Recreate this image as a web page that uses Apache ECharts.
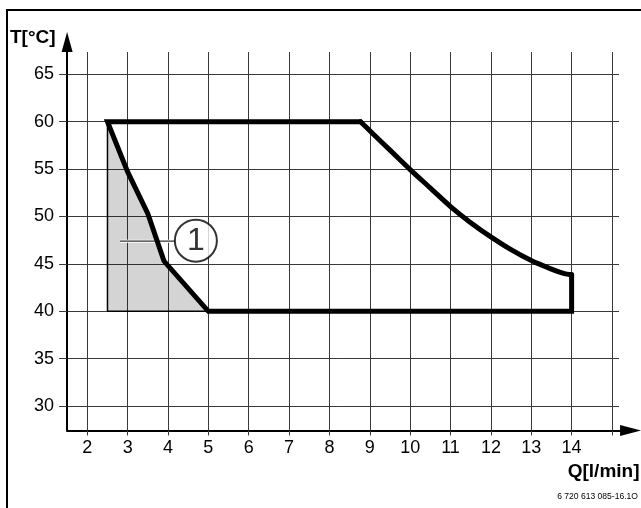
<!DOCTYPE html>
<html>
<head>
<meta charset="utf-8">
<script src="https://cdn.jsdelivr.net/npm/echarts@6/dist/echarts.min.js"></script>
<style>
  html, body { margin: 0; padding: 0; background: #fff; }
  #chart { width: 641px; height: 508px; }
</style>
</head>
<body>
<div id="chart"></div>
<script>
// ---- data ----
const qTicks = [2, 3, 4, 5, 6, 7, 8, 9, 10, 11, 12, 13, 14];
const tTicks = [30, 35, 40, 45, 50, 55, 60, 65];

// operating envelope, straight part (thick outline), Q [l/min], T [°C]
const envelopeQ = [8.77, 2.5, 3.0, 3.5, 3.9, 5.0, 14.0, 14.0];
const envelopeT = [60, 60, 54.7, 50.3, 45.3, 40, 40, 43.85];
// operating envelope, curved part
const curveQ = [8.77, 9.0, 9.5, 10.0, 10.5, 11.0, 11.5, 12.0, 12.5, 13.0, 13.5, 13.8, 14.0];
const curveT = [60, 59.05, 57.0, 54.95, 53.0, 51.05, 49.35, 47.85, 46.5, 45.35, 44.45, 44.0, 43.85];

// shaded region (1)
const shadeQ = [2.5, 3.0, 3.5, 3.9, 5.0, 2.5];
const shadeT = [60, 54.7, 50.3, 45.3, 40, 40];
const shadeEdgeQ = [2.5, 2.5, 5.0];
const shadeEdgeT = [60, 40, 40];

// callout "1"
const calloutLabel = '1';
const calloutQ = [4.69];
const calloutT = [47.45];
const leaderQ = [2.81, 4.17];
const leaderT = [47.4, 47.4];

const yTitle = 'T[°C]';
const xTitle = 'Q[l/min]';
const footnote = '6 720 613 085-16.1O';

// ---- layout (pixel mapping of the reference) ----
const W = 641, H = 508;
const PX_Q2 = 87.3, PX_PER_Q = 40.36, PY_T60 = 121.7, PX_PER_T = 9.48;
const px = q => PX_Q2 + (q - 2) * PX_PER_Q;
const py = t => PY_T60 + (60 - t) * PX_PER_T;
const Q_MIN = 1.5, Q_MAX = 15.2, T_MIN = 27.43, T_MAX = 67.35;
const FONT = 'Liberation Sans, Arial, sans-serif';

const zip = (a, b) => a.map((v, i) => [v, b[i]]);

const chart = echarts.init(document.getElementById('chart'), null, { renderer: 'canvas' });

const gridLine = { color: '#3a3a3a', width: 1 };

const option = {
  animation: false,
  backgroundColor: '#fff',
  grid: [
    // 0: main data grid with axis lines
    { left: px(Q_MIN), right: W - px(Q_MAX), top: py(T_MAX), bottom: H - py(T_MIN), containLabel: false },
    // 1: vertical grid lines / x labels
    { left: px(2), right: W - px(15), top: py(T_MAX), bottom: H - py(T_MIN), containLabel: false },
    // 2: horizontal grid lines / y labels
    { left: px(Q_MIN), right: W - 619, top: py(65), bottom: H - py(30), containLabel: false }
  ],
  xAxis: [
    {
      gridIndex: 0, type: 'value', min: Q_MIN, max: Q_MAX,
      axisLine: { show: true, lineStyle: { color: '#000', width: 2 }, symbol: ['none', 'triangle'], symbolSize: [11, 21], symbolOffset: [0, 10.5] },
      axisTick: { show: false }, axisLabel: { show: false }, splitLine: { show: false }
    },
    {
      gridIndex: 1, type: 'value', min: 2, max: 15, interval: 1,
      axisLine: { show: false },
      axisTick: { show: true, inside: false, length: 5, lineStyle: gridLine },
      axisLabel: { show: true, margin: 9, color: '#000', fontSize: 18, fontFamily: FONT,
        formatter: v => (qTicks.indexOf(v) >= 0 ? String(v) : '') },
      splitLine: { show: true, lineStyle: gridLine }
    },
    {
      gridIndex: 2, type: 'value', min: 0, max: 1, show: false
    }
  ],
  yAxis: [
    {
      gridIndex: 0, type: 'value', min: T_MIN, max: T_MAX,
      axisLine: { show: true, lineStyle: { color: '#000', width: 2 }, symbol: ['none', 'triangle'], symbolSize: [11, 20], symbolOffset: [0, 10] },
      axisTick: { show: false }, axisLabel: { show: false }, splitLine: { show: false }
    },
    {
      gridIndex: 1, type: 'value', min: 0, max: 1, show: false
    },
    {
      gridIndex: 2, type: 'value', min: 30, max: 65, interval: 5,
      axisLine: { show: false },
      axisTick: { show: true, inside: false, length: 8, lineStyle: gridLine },
      axisLabel: { show: true, margin: 13, color: '#000', fontSize: 18, fontFamily: FONT,
        formatter: v => (tTicks.indexOf(v) >= 0 ? String(v) : '') },
      splitLine: { show: true, lineStyle: gridLine }
    }
  ],
  series: [
    {
      type: 'custom',
      xAxisIndex: 0, yAxisIndex: 0,
      z: 1,
      silent: true,
      data: [0],
      renderItem: function (params, api) {
        const pts = zip(shadeQ, shadeT).map(p => api.coord(p));
        return { type: 'polygon', shape: { points: pts }, style: { fill: 'rgba(0,0,0,0.17)', stroke: 'none' } };
      }
    },
    {
      type: 'line', xAxisIndex: 0, yAxisIndex: 0, z: 3,
      data: zip(shadeEdgeQ, shadeEdgeT), showSymbol: false, silent: true,
      lineStyle: { color: '#000', width: 1.5 }
    },
    {
      type: 'line', xAxisIndex: 0, yAxisIndex: 0, z: 3,
      data: zip(leaderQ, leaderT), showSymbol: false, silent: true,
      lineStyle: { color: '#fff', width: 3 }
    },
    {
      type: 'line', xAxisIndex: 0, yAxisIndex: 0, z: 4,
      data: zip(leaderQ, leaderT), showSymbol: false, silent: true,
      lineStyle: { color: '#333', width: 1.2 }
    },
    {
      type: 'line', xAxisIndex: 0, yAxisIndex: 0, z: 5,
      data: zip(envelopeQ, envelopeT), showSymbol: false, silent: true,
      lineStyle: { color: '#000', width: 5, join: 'miter', cap: 'round' }
    },
    {
      type: 'line', xAxisIndex: 0, yAxisIndex: 0, z: 5,
      data: zip(curveQ, curveT), showSymbol: false, silent: true,
      smooth: 0.3,
      lineStyle: { color: '#000', width: 5, join: 'round', cap: 'round' }
    },
    {
      type: 'scatter', xAxisIndex: 0, yAxisIndex: 0, z: 6,
      data: zip(calloutQ, calloutT), symbol: 'circle', symbolSize: 42, silent: true,
      itemStyle: { color: '#fff', borderColor: '#000', borderWidth: 2 },
      label: { show: true, position: 'inside', formatter: calloutLabel, color: '#000', fontSize: 32, fontFamily: FONT }
    }
  ],
  graphic: [
    { type: 'rect', silent: true, shape: { x: 7, y: 10, width: 700, height: 600 }, style: { fill: 'none', stroke: '#000', lineWidth: 2 } },
    { type: 'text', silent: true, x: 10, y: 38, style: { text: yTitle, font: 'bold 19px ' + FONT, fill: '#000', verticalAlign: 'middle', align: 'left' } },
    { type: 'text', silent: true, x: 639.5, y: 472, style: { text: xTitle, font: 'bold 19px ' + FONT, fill: '#000', verticalAlign: 'middle', align: 'right' } },
    { type: 'text', silent: true, x: 638, y: 496, scaleX: 0.9, style: { text: footnote, font: '9.5px ' + FONT, fill: '#000', verticalAlign: 'middle', align: 'right' } }
  ]
};
chart.setOption(option);
</script>
</body>
</html>
